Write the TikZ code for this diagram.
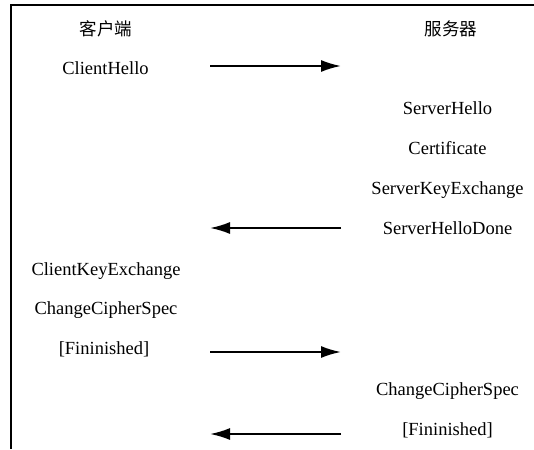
\documentclass[tikz,border=0pt]{standalone}
\usepackage{fontspec}
\setmainfont{Liberation Serif}
\newfontfamily\cjkfont{Noto Sans CJK SC}
\usetikzlibrary{arrows.meta}

\begin{document}
\begin{tikzpicture}[
    x=1pt, y=-1pt,
    frame/.style = {draw, line width=2pt},
    arrow/.style = {draw, line width=2pt, -{Latex[length=20pt, width=12pt]}},
    head/.style = {inner sep=0pt, font=\cjkfont\fontsize{17.5}{20}\selectfont},
    msg/.style = {inner sep=0pt, anchor=base, font=\fontsize{18.5}{22}\selectfont}
  ]
  \useasboundingbox (0,0) rectangle (534,449);
  \draw[frame] (534,5) -- (11,5) -- (11,449);

  % column heads
  \node (client) [head] at (106,29) {客户端};
  \node (server) [head] at (451,29) {服务器};

  % messages
  \node (clienthello) [msg] at (105.5,75) {ClientHello};
  \node (serverhello) [msg] at (447.5,114.5) {ServerHello};
  \node (certificate) [msg] at (447.5,154.5) {Certificate};
  \node (serverkeyex) [msg] at (447.5,194.5) {ServerKeyExchange};
  \node (serverdone) [msg] at (447.5,234.5) {ServerHelloDone};
  \node (clientkeyex) [msg] at (106,275) {ClientKeyExchange};
  \node (clientccs) [msg] at (106,314.5) {ChangeCipherSpec};
  \node (clientfin) [msg] at (104,354.5) {[Fininished]};
  \node (serverccs) [msg] at (447.5,395) {ChangeCipherSpec};
  \node (serverfin) [msg] at (447.5,435) {[Fininished]};

  % arrow ends
  \coordinate (c1) at (210,66);  \coordinate (s1) at (341,66);
  \coordinate (c2) at (210,228); \coordinate (s2) at (341,228);
  \coordinate (c3) at (210,352); \coordinate (s3) at (341,352);
  \coordinate (c4) at (210,434); \coordinate (s4) at (341,434);

  \begin{scope}[every path/.style=arrow]
    \path (c1) -- (s1);
    \path (s2) -- (c2);
    \path (c3) -- (s3);
    \path (s4) -- (c4);
  \end{scope}
\end{tikzpicture}
\end{document}
